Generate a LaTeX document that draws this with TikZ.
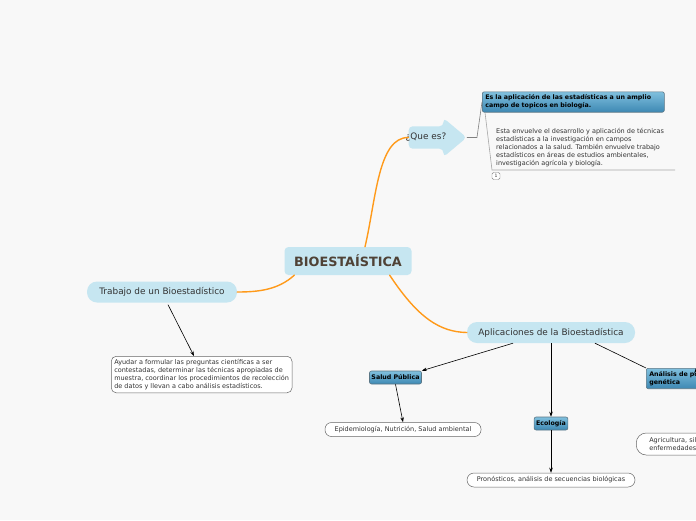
\documentclass[tikz,border=0pt]{standalone}
\usepackage{fontspec}
\setmainfont{DejaVu Sans}
\usepackage{xcolor}
\usepackage{tikz}
\usetikzlibrary{shapes.arrows, arrows.meta, positioning}
\definecolor{paper}{HTML}{F8F8F8}
\definecolor{pale}{HTML}{C6E6F1}
\definecolor{branch}{HTML}{FF9A1A}
\definecolor{ink}{HTML}{333333}
\definecolor{deepblue}{HTML}{3D88B3}
\definecolor{lightblue}{HTML}{80C0DE}
\definecolor{rim}{HTML}{5B7685}
\tikzset{
  central/.style={rectangle, rounded corners=4pt, fill=pale, text=ink!80!brown, align=center, font=\fontsize{12.8}{14}\selectfont\bfseries, minimum width=127, minimum height=28},
  topic/.style={rectangle, rounded corners=10pt, fill=pale, text=ink, align=center, font=\fontsize{8.9}{10}\selectfont, minimum height=21},
  blue/.style={rectangle, rounded corners=2pt, draw=rim, line width=0.6pt, top color=lightblue, bottom color=deepblue, text=black, align=left, font=\fontsize{6.3}{8}\selectfont\bfseries, inner sep=3pt},
  leaf/.style={rectangle, rounded corners=6pt, draw=gray!80!black, line width=0.5pt, fill=white, text=ink, align=left, font=\fontsize{6.5}{8}\selectfont, inner sep=3pt},
  curve/.style={branch, line width=1.4pt, line cap=round},
  arr/.style={-{Stealth[length=5pt, width=3.5pt]}, line width=0.6pt, black},
}
\begin{document}
\begin{tikzpicture}[x=1pt, y=-1pt]
\useasboundingbox (0,0) rectangle (696,520);
\fill[paper] (0,0) rectangle (696,520);
\clip (0,0) rectangle (696,520);
% main topics
\node[central] (bio) at (348,261) {BIOESTAÍSTICA};
\node[single arrow, single arrow head extend=4, single arrow tip angle=80, minimum height=58, minimum width=39, rounded corners=4pt,
  fill=pale, text=ink, font=\fontsize{8.9}{10}\selectfont, inner sep=1pt] (que) at (431,137.5) {\hspace*{-10pt}¿Que es?};
\node[topic, minimum width=150] (trab) at (162,292) {Trabajo de un Bioestadístico};
\node[topic, minimum width=168] (apl) at (551,332.5) {Aplicaciones de la Bioestadística};
\draw[curve] (bio.north) ++(17,0) .. controls (376,200) and (378,137) .. (que.west);
\draw[curve] (bio.south west) ++(10,0) .. controls (278,290) and (258,292) .. (trab.east);
\draw[curve] (bio.south east) ++(-22,0) .. controls (418,318) and (440,332) .. (apl.west);
% que es
\node[blue, text width=176, anchor=west] (esla) at (482,102) {Es la aplicación de las estadísticas a un amplio\\campo de topicos en biología.};
\draw[gray, line width=0.6pt] (que.east) -- ++(10,0) -- (esla.west);
\node[anchor=north west, align=left, text=ink, font=\fontsize{6.5}{8}\selectfont, inner sep=0pt] (def) at (496,128)
  {Esta envuelve el desarrollo y aplicación de técnicas\\estadísticas a la investigación en campos\\relacionados a la salud. También envuelve trabajo\\estadísticos en áreas de estudios ambientales,\\investigación agrícola y biología.};
\coordinate (fr) at (675,170);
\draw[gray!70, line width=0.6pt] (esla.south west) ++(3,0) -- (492,170) -- (fr);
\node[draw=gray, rounded corners=1.5pt, fill=white, inner sep=0.8pt, font=\fontsize{4.5}{5}\selectfont, text=ink, minimum width=8, minimum height=7] (one) at (496,176) {1};
% trabajo
\node[leaf, rounded corners=5pt, anchor=north west] (ayu) at (111,356) {Ayudar a formular las preguntas científicas a ser\\contestadas, determinar las técnicas apropiadas de\\muestra, coordinar los procedimientos de recolección\\de datos y llevan a cabo análisis estadísticos.};
\draw[arr] (trab.south) ++(6,2) -- (ayu.north -| 194,0);
% aplicaciones
\node[blue, minimum height=13, inner sep=2pt] (sal) at (395.5,377.5) {Salud Pública};
\node[blue, minimum height=13, inner sep=2pt] (eco) at (551,423.5) {Ecología};
\node[blue, anchor=west, text width=80] (ana) at (646,378.5) {Análisis de población\\genética};
\node[leaf, rounded corners=6.5pt, minimum height=14, minimum width=156, inner sep=2pt, align=center] (epi) at (403,429.5) {Epidemiología, Nutrición, Salud ambiental};
\node[leaf, rounded corners=7pt, minimum width=168, minimum height=14, inner sep=2pt, align=center] (pro) at (551,480) {Pronósticos, análisis de secuencias biológicas};
\node[leaf, rounded corners=10pt, anchor=west, minimum height=22, text width=110, inner xsep=13pt] (agr) at (636,444) {Agricultura, silvicultura,\\enfermedades};
\draw[arr] (apl.south) ++(-38,0) -- (sal.north east);
\draw[arr] (apl.south) -- (eco.north);
\draw[arr] (apl.south) ++(44,0) -- (ana.north west) ++(50,0);
\draw[arr] (sal.south) -- (epi.north);
\draw[arr] (eco.south) -- (pro.north);
\end{tikzpicture}
\end{document}
